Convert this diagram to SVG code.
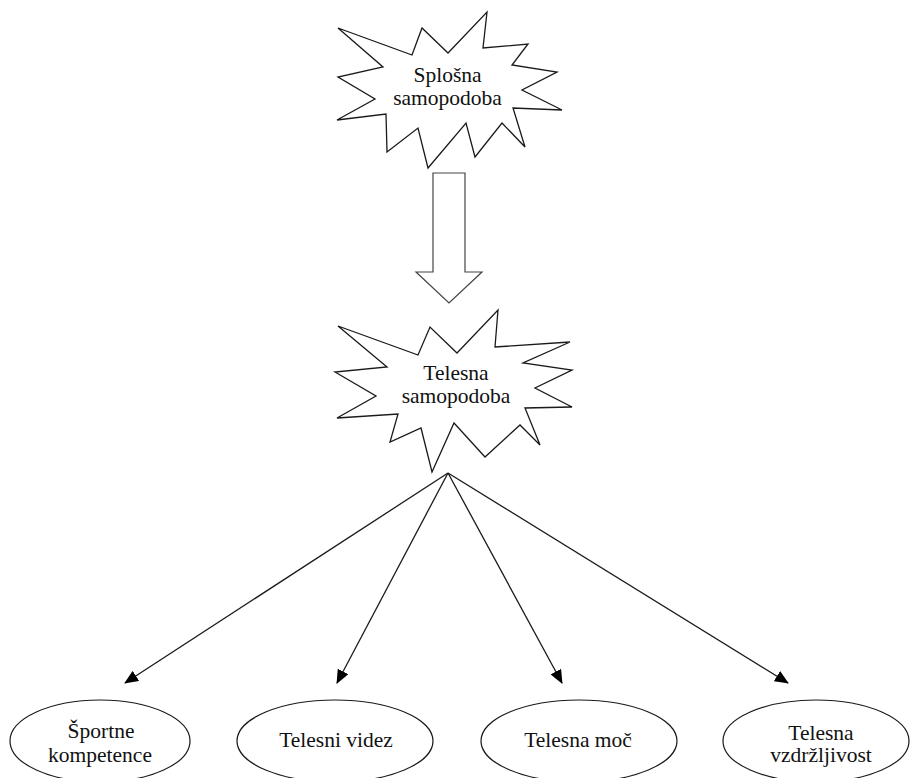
<svg xmlns="http://www.w3.org/2000/svg" width="910" height="778" viewBox="0 0 910 778">
<style>
.star{fill:#fff;stroke:#1a1a1a;stroke-width:1.3;stroke-linejoin:miter}
.ell{fill:#fff;stroke:#1a1a1a;stroke-width:1.2}
.t{font-family:"Liberation Serif","DejaVu Serif",serif;font-size:21.5px;fill:#111;text-anchor:middle}
.conn{stroke:#1a1a1a;stroke-width:1.3;fill:none}
.big{fill:#fff;stroke:#444;stroke-width:1.2}
</style>
<defs>
<marker id="ah" markerUnits="userSpaceOnUse" markerWidth="14" markerHeight="12" viewBox="0 0 14 12" refX="13" refY="6" orient="auto">
<path d="M0,0 L14,6 L0,12 Z" fill="#000"/>
</marker>
</defs>
<rect width="910" height="778" fill="#fff"/>
<g id="splosna">
<polygon class="star" points="338,28 412,55 422,28 448,53 487,12 483,48 528,44 512,65 557,72 522,90 562,110 513,108 525,147 502,123 475,157 466,123 428,168 418,128 387,152 386,114 337,120 375,99 338,77 383,67"/>
<text class="t" x="447.5" y="82">Splošna</text>
<text class="t" x="447.5" y="105">samopodoba</text>
</g>
<g id="bigarrow">
<polygon class="big" points="433,173 465,173 465,272 482,272 449,303 416,272 433,272"/>
</g>
<g id="telesna">
<polygon class="star" points="338,326 418,355 430,327 457,353 498,310 495,347 570,342 523,363 572,370 535,388 572,407 525,408 540,445 520,425 485,457 454,423 432,472 421,428 390,442 398,414 337,418 376,396 335,372 387,367"/>
<text class="t" x="456" y="380">Telesna</text>
<text class="t" x="456" y="403">samopodoba</text>
</g>
<g id="connectors">
<line class="conn" x1="448" y1="473" x2="125" y2="683" marker-end="url(#ah)"/>
<line class="conn" x1="448" y1="473" x2="337" y2="683" marker-end="url(#ah)"/>
<line class="conn" x1="448" y1="473" x2="562" y2="683" marker-end="url(#ah)"/>
<line class="conn" x1="448" y1="473" x2="788" y2="683" marker-end="url(#ah)"/>
</g>
<g id="sportne">
<ellipse class="ell" cx="100" cy="741" rx="90" ry="41"/>
<text class="t" x="101" y="738">Športne</text>
<text class="t" x="100" y="762">kompetence</text>
</g>
<g id="videz">
<ellipse class="ell" cx="335" cy="741" rx="98" ry="41"/>
<text class="t" x="336" y="747">Telesni videz</text>
</g>
<g id="moc">
<ellipse class="ell" cx="579" cy="741" rx="98" ry="41"/>
<text class="t" x="578" y="747">Telesna moč</text>
</g>
<g id="vzdrzljivost">
<ellipse class="ell" cx="816" cy="741" rx="93" ry="41"/>
<text class="t" x="821" y="740">Telesna</text>
<text class="t" x="821" y="762">vzdržljivost</text>
</g>
</svg>
